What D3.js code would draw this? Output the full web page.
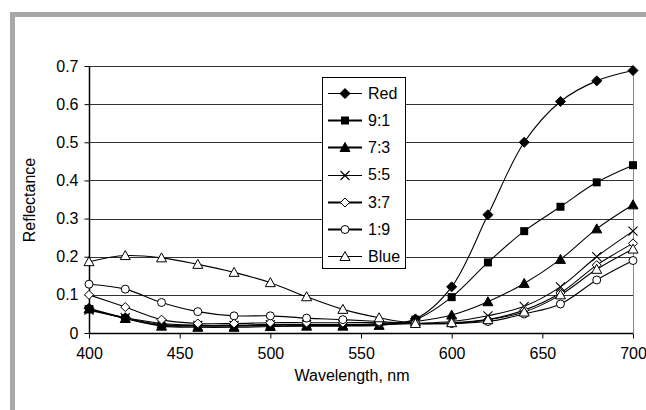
<!DOCTYPE html>
<html>
<head>
<meta charset="utf-8">
<script src="https://cdn.jsdelivr.net/npm/d3@7"></script>
<style>
  body { margin: 0; background: #fff; }
  text { font-family: "Liberation Sans", Arial, sans-serif; font-size: 16px; fill: #000; }
</style>
</head>
<body>
<script>
var wavelengths = [400, 420, 440, 460, 480, 500, 520, 540, 560, 580, 600, 620, 640, 660, 680, 700]

var red   = [0.065, 0.040, 0.022, 0.020, 0.020, 0.022, 0.022, 0.022, 0.025, 0.037, 0.121, 0.310, 0.500, 0.607, 0.661, 0.688]
var r91   = [0.063, 0.038, 0.020, 0.018, 0.018, 0.020, 0.020, 0.020, 0.022, 0.035, 0.094, 0.185, 0.267, 0.331, 0.395, 0.440]
var r73   = [0.063, 0.038, 0.018, 0.015, 0.015, 0.017, 0.018, 0.018, 0.020, 0.030, 0.047, 0.082, 0.130, 0.193, 0.273, 0.336]
var r55   = [0.060, 0.040, 0.025, 0.020, 0.020, 0.022, 0.022, 0.022, 0.022, 0.025, 0.030, 0.045, 0.070, 0.121, 0.200, 0.267]
var r37   = [0.100, 0.068, 0.035, 0.025, 0.025, 0.027, 0.027, 0.027, 0.027, 0.025, 0.025, 0.035, 0.060, 0.105, 0.178, 0.235]
var r19   = [0.128, 0.115, 0.080, 0.056, 0.045, 0.045, 0.039, 0.035, 0.030, 0.025, 0.025, 0.030, 0.050, 0.076, 0.139, 0.190]
var blue  = [0.187, 0.203, 0.197, 0.180, 0.159, 0.132, 0.095, 0.062, 0.040, 0.025, 0.027, 0.035, 0.055, 0.100, 0.167, 0.220]

var seriesNames = ['Red', '9:1', '7:3', '5:5', '3:7', '1:9', 'Blue']
var seriesData  = [red, r91, r73, r55, r37, r19, blue]
var markerTypes = ['diamond', 'square', 'triangle', 'cross', 'diamond-open', 'circle-open', 'triangle-open']

var xTicks = [400, 450, 500, 550, 600, 650, 700]
var yTicks = [0, 0.1, 0.2, 0.3, 0.4, 0.5, 0.6, 0.7]

var W = 646, H = 410
var svg = d3.select('body').append('svg').attr('width', W).attr('height', H)

// outer gray frame
svg.append('rect')
  .attr('x', 12.5).attr('y', 14.5)
  .attr('width', W + 20).attr('height', H + 20)
  .attr('fill', '#fff').attr('stroke', '#a8a8a8').attr('stroke-width', 5)

var x = d3.scaleLinear().domain([400, 700]).range([89, 633])
var y = d3.scaleLinear().domain([0, 0.7]).range([333, 66])

// gridlines
svg.append('g').selectAll('line').data(yTicks.slice(1)).enter().append('line')
  .attr('x1', x(400)).attr('x2', x(700))
  .attr('y1', function(d) { return Math.round(y(d)) + 0.5 })
  .attr('y2', function(d) { return Math.round(y(d)) + 0.5 })
  .attr('stroke', '#333').attr('stroke-width', 1)

// right border
svg.append('line')
  .attr('x1', Math.round(x(700)) + 0.5).attr('x2', Math.round(x(700)) + 0.5)
  .attr('y1', y(0.7)).attr('y2', y(0))
  .attr('stroke', '#888')

// axes
var xAxis = svg.append('g').attr('transform', 'translate(0,' + (Math.round(y(0)) + 0.5) + ')')
  .call(d3.axisBottom(x).tickValues(xTicks).tickSize(5).tickPadding(20).tickFormat(d3.format('d')))
var yAxis = svg.append('g').attr('transform', 'translate(' + (Math.round(x(400)) + 0.5) + ',0)')
  .call(d3.axisLeft(y).tickValues(yTicks).tickSize(5).tickPadding(6).tickFormat(function(d) { return d === 0 ? '0' : d3.format('.1f')(d) }))

svg.selectAll('.domain').attr('stroke', '#000').attr('stroke-width', 1.5)
svg.selectAll('.tick line').attr('stroke', '#000')
svg.selectAll('.tick text').attr('font-size', 16).attr('font-family', '"Liberation Sans", Arial, sans-serif')
xAxis.selectAll('.tick text').attr('dy', 0)
xAxis.selectAll('.domain').attr('d', 'M' + x(400) + ',0H' + x(700))
yAxis.selectAll('.domain').attr('d', 'M0,' + y(0.7) + 'V' + y(0))

// axis titles
svg.append('text').attr('x', 352).attr('y', 381).attr('text-anchor', 'middle').text('Wavelength, nm')
svg.append('text').attr('transform', 'translate(35,200) rotate(-90)').attr('text-anchor', 'middle').text('Reflectance')

// lines
var line = d3.line()
  .x(function(d, i) { return x(wavelengths[i]) })
  .y(function(d) { return y(d) })
  .curve(d3.curveCatmullRom.alpha(0.5))

var plot = svg.append('g')
seriesData.forEach(function(s) {
  plot.append('path').attr('d', line(s)).attr('fill', 'none').attr('stroke', '#000').attr('stroke-width', 1.1)
})

function drawMarker(g, type, cx, cy) {
  if (type === 'diamond' || type === 'diamond-open') {
    var r = type === 'diamond' ? 5 : 4.5
    g.append('path').attr('d', 'M' + cx + ',' + (cy - r) + 'L' + (cx + r) + ',' + cy + 'L' + cx + ',' + (cy + r) + 'L' + (cx - r) + ',' + cy + 'Z')
      .attr('fill', type === 'diamond' ? '#000' : '#fff').attr('stroke', '#000').attr('stroke-width', 1)
  } else if (type === 'square') {
    g.append('rect').attr('x', cx - 4).attr('y', cy - 4).attr('width', 8).attr('height', 8).attr('fill', '#000')
  } else if (type === 'triangle' || type === 'triangle-open') {
    var s = 5
    g.append('path').attr('d', 'M' + cx + ',' + (cy - s) + 'L' + (cx + s) + ',' + (cy + s * 0.8) + 'L' + (cx - s) + ',' + (cy + s * 0.8) + 'Z')
      .attr('fill', type === 'triangle' ? '#000' : '#fff').attr('stroke', '#000').attr('stroke-width', 1)
  } else if (type === 'cross') {
    var c = 4.5
    g.append('path').attr('d', 'M' + (cx - c) + ',' + (cy - c) + 'L' + (cx + c) + ',' + (cy + c) + 'M' + (cx + c) + ',' + (cy - c) + 'L' + (cx - c) + ',' + (cy + c))
      .attr('stroke', '#000').attr('stroke-width', 1.1)
  } else if (type === 'circle-open') {
    g.append('circle').attr('cx', cx).attr('cy', cy).attr('r', 4).attr('fill', '#fff').attr('stroke', '#000').attr('stroke-width', 1)
  }
}

seriesData.forEach(function(s, k) {
  var g = plot.append('g')
  s.forEach(function(v, i) { drawMarker(g, markerTypes[k], x(wavelengths[i]), y(v)) })
})

// legend
var leg = svg.append('g')
leg.append('rect').attr('x', 322.5).attr('y', 77.5).attr('width', 83).attr('height', 191)
  .attr('fill', '#fff').attr('stroke', '#000').attr('stroke-width', 1)
seriesNames.forEach(function(name, k) {
  var ly = 93 + k * 27.2
  var gy = Math.round(ly) + 0.5
  leg.append('line').attr('x1', 328).attr('x2', 362).attr('y1', gy).attr('y2', gy)
    .attr('stroke', '#000').attr('stroke-width', (k === 0 || k === 3 || k === 6) ? 1 : 1.8)
  drawMarker(leg, markerTypes[k], 345, gy)
  leg.append('text').attr('x', 368).attr('y', ly).attr('dy', '0.36em').text(name)
})
</script>
</body>
</html>
